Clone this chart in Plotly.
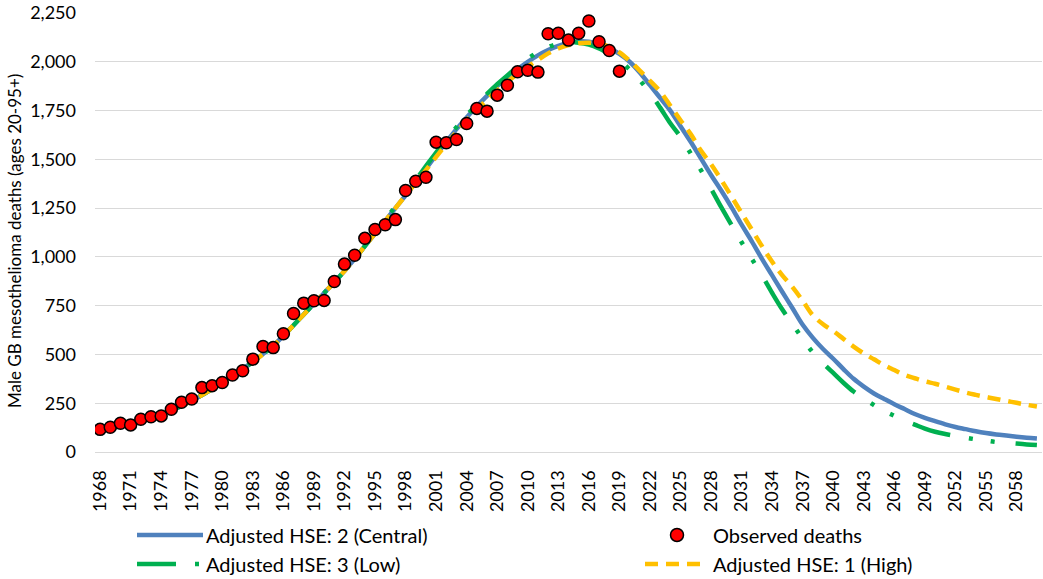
import plotly.graph_objects as go

# ---- data -------------------------------------------------------------
years = list(range(1968, 2061))

observed_years = list(range(1968, 2020))
observed_deaths = [
    116, 127, 147, 139, 168, 181, 185, 219, 255, 272,
    330, 340, 356, 395, 416, 476, 541, 535, 606, 710,
    763, 775, 777, 874, 963, 1008, 1095, 1140, 1165, 1191,
    1340, 1388, 1408, 1588, 1585, 1602, 1684, 1761, 1747, 1829,
    1880, 1949, 1957, 1947, 2144, 2146, 2111, 2146, 2209, 2103,
    2058, 1952,
]

# shared history of the model fits, 1968-1994
fit_history = [
    112, 122, 133, 146, 160, 176, 194, 214, 236, 262,
    292, 323, 356, 390, 425, 462, 502, 545, 595, 650,
    705, 760, 815, 870, 928, 990, 1055,
]

central_tail = [  # 1995-2060
    1120, 1185, 1250, 1315, 1385, 1452, 1522, 1590, 1655, 1715,
    1772, 1825, 1875, 1920, 1962, 2000, 2033, 2060, 2082, 2097,
    2105, 2103, 2092, 2070, 2040,
    2000, 1945, 1880, 1815, 1750, 1670, 1590, 1505, 1420, 1340,
    1255, 1165, 1080, 990, 905, 820, 737, 652, 585, 528,
    478, 425, 375, 335, 300, 272, 245, 220, 195, 175,
    158, 142, 128, 117, 106, 97, 90, 84, 78, 73, 69,
]

low_tail = [  # 1995-2060
    1125, 1192, 1258, 1325, 1395, 1465, 1535, 1602, 1665, 1725,
    1782, 1835, 1885, 1930, 1975, 2015, 2050, 2075, 2093, 2100,
    2098, 2088, 2068, 2040, 2008,
    1960, 1905, 1840, 1765, 1685, 1615, 1530, 1445, 1350, 1255,
    1165, 1075, 990, 905, 815, 730, 655, 580, 510, 455,
    405, 355, 310, 275, 240, 210, 185, 160, 140, 120,
    104, 92, 82, 73, 65, 58, 51, 47, 43, 39, 36,
]

high_tail = [  # 1995-2060
    1120, 1185, 1250, 1315, 1380, 1445, 1512, 1578, 1640, 1700,
    1755, 1805, 1853, 1897, 1938, 1975, 2010, 2043, 2068, 2085,
    2095, 2098, 2093, 2078, 2048,
    2005, 1955, 1903, 1848, 1775, 1700, 1630, 1545, 1475, 1395,
    1310, 1225, 1140, 1055, 975, 905, 845, 775, 700, 655,
    620, 580, 540, 505, 475, 445, 420, 395, 378, 362,
    350, 335, 320, 305, 293, 282, 272, 262, 252, 242, 233,
]

central = fit_history + central_tail
low = fit_history + low_tail
high = fit_history + high_tail

name_central = "Adjusted HSE: 2 (Central)"
name_low = "Adjusted HSE: 3 (Low)"
name_high = "Adjusted HSE: 1 (High)"
name_obs = "Observed deaths"
y_title = "Male GB mesothelioma deaths (ages 20-95+)"

tick_years = list(range(1968, 2060, 3))

# ---- styling ----------------------------------------------------------
FONT = "Lato"
BLUE = "#4F81BD"
GREEN = "#00B050"
YELLOW = "#FFC000"
RED = "#FF0000"
GRID = "#D9D9D9"
LOW_DASH = "39px,19px,4px,18px,4px,21px"
HIGH_DASH = "13px,8px"

W, H = 1043, 579
M_L, M_R, M_T, M_B = 95, 1, 13, 127
PW, PH = W - M_L - M_R, H - M_T - M_B

fig = go.Figure()
fig.add_trace(go.Scatter(x=years, y=central, mode="lines", name=name_central,
                         line=dict(color=BLUE, width=4.5), line_shape="spline"))
fig.add_trace(go.Scatter(x=years, y=low, mode="lines", name=name_low,
                         line=dict(color=GREEN, width=4.5, dash=LOW_DASH), line_shape="spline"))
fig.add_trace(go.Scatter(x=years, y=high, mode="lines", name=name_high,
                         line=dict(color=YELLOW, width=4.5, dash=HIGH_DASH), line_shape="spline"))
fig.add_trace(go.Scatter(x=observed_years, y=observed_deaths, mode="markers", name=name_obs,
                         marker=dict(color=RED, size=12, line=dict(color="black", width=1.5))))


# ---- legend below the axis, laid out in pixel terms ---------------------
def px_x(px):
    return (px - M_L) / PW


def px_y(py):
    return (M_T + PH - py) / PH


shapes = []
annotations = []
row1, row2 = 535, 564
legend_font = dict(family=FONT, size=20, color="black")


def legend_text(x, y, text):
    annotations.append(dict(x=px_x(x), y=px_y(y), xref="paper", yref="paper",
                            text=text, showarrow=False, xanchor="left",
                            yanchor="middle", font=legend_font))


shapes.append(dict(type="line", xref="paper", yref="paper",
                   x0=px_x(137), x1=px_x(203), y0=px_y(row1), y1=px_y(row1),
                   line=dict(color=BLUE, width=4.5)))
legend_text(204, row1, name_central)

shapes.append(dict(type="circle", xref="paper", yref="paper",
                   x0=px_x(677 - 6.5), x1=px_x(677 + 6.5),
                   y0=px_y(row1 + 6.5), y1=px_y(row1 - 6.5),
                   fillcolor=RED, line=dict(color="black", width=1.5)))
legend_text(711, row1, name_obs)

shapes.append(dict(type="line", xref="paper", yref="paper",
                   x0=px_x(137), x1=px_x(201), y0=px_y(row2), y1=px_y(row2),
                   line=dict(color=GREEN, width=4.5, dash=LOW_DASH)))
legend_text(204, row2, name_low)

shapes.append(dict(type="line", xref="paper", yref="paper",
                   x0=px_x(645), x1=px_x(702), y0=px_y(row2), y1=px_y(row2),
                   line=dict(color=YELLOW, width=4.5, dash=HIGH_DASH)))
legend_text(711, row2, name_high)

# vertical axis title, centred a little below the plot's mid-height
annotations.append(dict(x=px_x(15), y=px_y(241), xref="paper", yref="paper",
                        text=y_title, textangle=-90, showarrow=False,
                        xanchor="center", yanchor="middle",
                        font=dict(family=FONT, size=17, color="black")))

fig.update_layout(
    width=W, height=H,
    margin=dict(l=M_L, r=M_R, t=M_T, b=M_B, pad=0),
    paper_bgcolor="white", plot_bgcolor="white",
    showlegend=False,
    font=dict(family=FONT, size=18, color="black"),
    shapes=shapes, annotations=annotations,
)
fig.update_xaxes(
    range=[1967.5, 2060.5], tickmode="array", tickvals=tick_years,
    ticktext=[str(y) for y in tick_years], tickangle=-90,
    showgrid=False, zeroline=False, showline=True, linecolor=GRID, linewidth=1.3,
    ticks="", ticklabelstandoff=10, tickfont=dict(family=FONT, size=18),
)
fig.update_yaxes(
    range=[0, 2250], dtick=250, tickformat=",", showgrid=True, gridcolor=GRID,
    gridwidth=1.3, zeroline=False, ticks="", ticklabelstandoff=18,
    tickfont=dict(family=FONT, size=18),
)

fig.write_html("out.html")
